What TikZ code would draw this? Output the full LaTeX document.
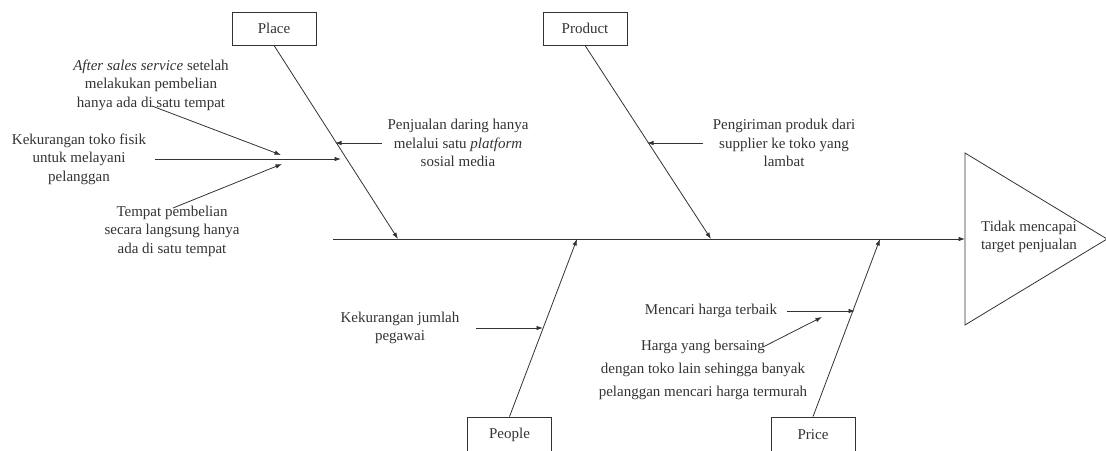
\documentclass[tikz,border=0pt]{standalone}
\usepackage{fontspec}
\setmainfont{Liberation Serif}
\usetikzlibrary{arrows.meta}
\definecolor{ink}{HTML}{333333}
\tikzset{
  cat/.style={draw=ink, line width=0.8pt, minimum width=84pt, minimum height=33pt, inner sep=0pt, text=ink, font=\fontsize{15}{18}\selectfont},
  lbl/.style={align=center, text=ink, inner sep=0pt, font=\fontsize{15}{18.5}\selectfont},
  arr/.style={draw=ink, line width=0.8pt, -{Latex[length=6.5pt,width=4.5pt]}},
  bone/.style={draw=ink, line width=0.8pt}
}
\begin{document}
\begin{tikzpicture}[x=1pt,y=-1pt]
\useasboundingbox (0,0) rectangle (1106,450);
% category boxes
\node[cat] (place) at (274,28.5) {Place};
\node[cat] (product) at (585,28.5) {Product};
\node[cat, minimum height=36pt] (people) at (509.5,435) {People};
\node[cat, minimum height=36pt] (price) at (813,435) {Price};
% spine and head
\coordinate (s0) at (333,239);
\coordinate (s1) at (965,239);
\coordinate (t1) at (965,153);
\coordinate (t2) at (965,325);
\coordinate (t3) at (1107,239);
\draw[bone] (t1) -- (t3) -- (t2) -- cycle;
\draw[arr] (s0) -- (s1);
\node[lbl] (effect) at (1029,237) {Tidak mencapai\\target penjualan};
% main bones
\coordinate (pe) at (398,239);
\coordinate (pre) at (711,239);
\coordinate (poe) at (577,239);
\coordinate (pre2) at (880,239);
\draw[arr] (place.south) -- (pe);
\draw[arr] (product.south) -- (pre);
\draw[arr] (people.north) -- (poe);
\draw[arr] (price.north) -- (pre2);
% Place causes
\node[lbl] (c1) at (151,85) {\textit{After sales service} setelah\\melakukan pembelian\\hanya ada di satu tempat};
\node[lbl] (c2) at (79,159) {Kekurangan toko fisik\\untuk melayani\\pelanggan};
\node[lbl] (c3) at (172,231) {Tempat pembelian\\secara langsung hanya\\ada di satu tempat};
\node[lbl] (c4) at (458,143) {Penjualan daring hanya\\melalui satu \textit{platform}\\sosial media};
\coordinate (c1s) at (152,106);
\coordinate (c1e) at (281,155);
\coordinate (c2s) at (155,159);
\coordinate (c2e) at (341,159);
\coordinate (c3s) at (173,208);
\coordinate (c3e) at (282,164);
\coordinate (c4s) at (382,143);
\coordinate (c4e) at (335,143);
\draw[arr] (c1s) -- (c1e);
\draw[arr] (c2s) -- (c2e);
\draw[arr] (c3s) -- (c3e);
\draw[arr] (c4s) -- (c4e);
% Product cause
\node[lbl] (c5) at (784,143) {Pengiriman produk dari\\supplier ke toko yang\\lambat};
\coordinate (c5s) at (703,143);
\coordinate (c5e) at (647,143);
\draw[arr] (c5s) -- (c5e);
% People cause
\node[lbl] (c6) at (400,328) {Kekurangan jumlah\\pegawai};
\coordinate (c6s) at (476,328);
\coordinate (c6e) at (543,328);
\draw[arr] (c6s) -- (c6e);
% Price causes
\node[lbl] (c7) at (711,311) {Mencari harga terbaik};
\coordinate (c7s) at (787,311);
\coordinate (c7e) at (855,311);
\draw[arr] (c7s) -- (c7e);
\node[lbl, font=\fontsize{15}{23}\selectfont] (c8) at (703,370) {Harga yang bersaing\\dengan toko lain sehingga banyak\\pelanggan mencari harga termurah};
\coordinate (c8s) at (763,347);
\coordinate (c8e) at (822,317);
\draw[arr] (c8s) -- (c8e);
\end{tikzpicture}
\end{document}
